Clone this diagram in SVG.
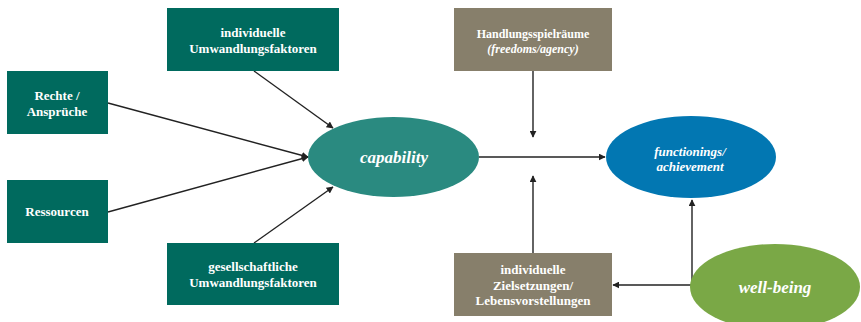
<svg xmlns="http://www.w3.org/2000/svg" width="861" height="322" viewBox="0 0 861 322">
<defs>
<style>
.g{fill:#006a5e}
.b{fill:#877f6b}
.t{font-family:"Liberation Serif","Times New Roman",serif;font-weight:bold;fill:#ffffff;text-anchor:middle;font-size:13px}
.i{font-style:italic}
.big{font-size:17px}
.c{stroke:#222;stroke-width:1.4;fill:none;marker-end:url(#ah)}
</style>
<marker id="ah" viewBox="0 0 10 10" refX="9" refY="5" markerWidth="7" markerHeight="7" markerUnits="userSpaceOnUse" orient="auto">
<path d="M0,0 L10,5 L0,10 z" fill="#222"/>
</marker>
</defs>
<rect width="861" height="322" fill="#ffffff"/>
<g id="connectors">
<line class="c" x1="254" y1="71" x2="333" y2="128"/>
<line class="c" x1="108" y1="103" x2="308" y2="157"/>
<line class="c" x1="108" y1="212" x2="308" y2="157"/>
<line class="c" x1="254" y1="243" x2="333" y2="187"/>
<line class="c" x1="479" y1="157" x2="605" y2="157"/>
<line class="c" x1="533" y1="71" x2="533" y2="137"/>
<line class="c" x1="533" y1="253" x2="533" y2="176"/>
<line class="c" x1="692" y1="285" x2="692" y2="200"/>
<polyline class="c" points="692,285 613,285"/>
</g>
<g id="n-indiv">
<rect class="g" x="167" y="8" width="172" height="63"/>
<text class="t" x="253" y="37">individuelle</text>
<text class="t" x="253" y="53">Umwandlungsfaktoren</text>
</g>
<g id="n-rechte">
<rect class="g" x="7" y="71" width="101" height="63"/>
<text class="t" x="57" y="100">Rechte /</text>
<text class="t" x="57" y="116">Ansprüche</text>
</g>
<g id="n-ress">
<rect class="g" x="7" y="180" width="101" height="63"/>
<text class="t" x="57" y="216">Ressourcen</text>
</g>
<g id="n-gesell">
<rect class="g" x="167" y="243" width="172" height="62"/>
<text class="t" x="253" y="271">gesellschaftliche</text>
<text class="t" x="253" y="287">Umwandlungsfaktoren</text>
</g>
<g id="n-capability">
<ellipse cx="393.5" cy="157" rx="85.5" ry="40" fill="#2a8a80"/>
<text class="t i big" x="394" y="163">capability</text>
</g>
<g id="n-handlung">
<rect class="b" x="454" y="8" width="158" height="63"/>
<text class="t" x="533" y="38" style="font-size:12px">Handlungsspielräume</text>
<text class="t i" x="533" y="53" style="font-size:12px">(freedoms/agency)</text>
</g>
<g id="n-ziel">
<rect class="b" x="454" y="253" width="158" height="63"/>
<text class="t" x="533" y="274">individuelle</text>
<text class="t" x="533" y="290">Zielsetzungen/</text>
<text class="t" x="533" y="305">Lebensvorstellungen</text>
</g>
<g id="n-functionings">
<ellipse cx="691" cy="157" rx="85" ry="41" fill="#0277b2"/>
<text class="t i" x="690" y="156">functionings/</text>
<text class="t i" x="690" y="171">achievement</text>
</g>
<g id="n-wellbeing">
<ellipse cx="775" cy="287" rx="85" ry="43" fill="#7aa846"/>
<text class="t i big" x="775" y="293">well-being</text>
</g>
</svg>
